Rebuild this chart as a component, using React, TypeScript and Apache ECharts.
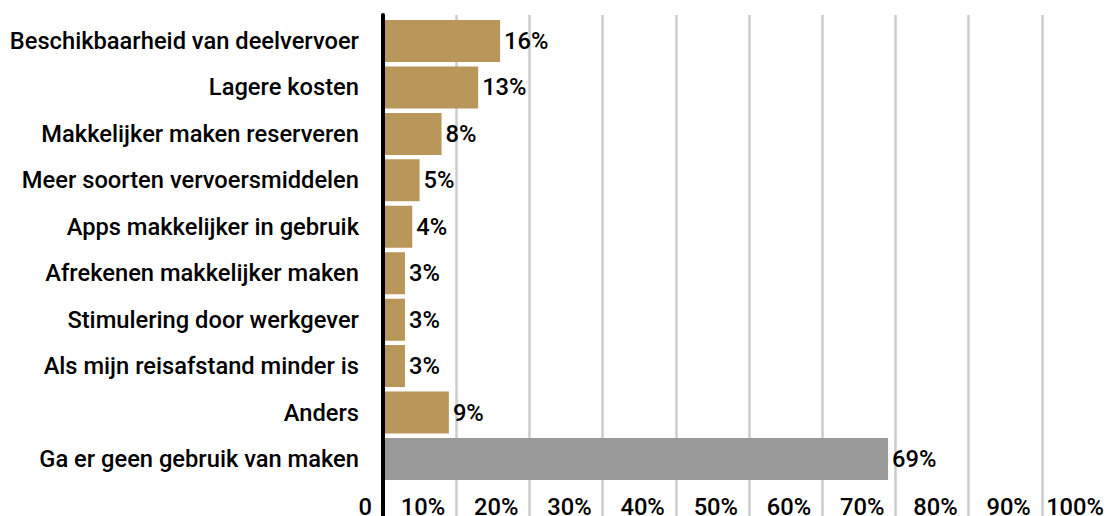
import React, { useEffect, useRef } from "react";
import * as echarts from "echarts";

const categories = [
  "Beschikbaarheid van deelvervoer",
  "Lagere kosten",
  "Makkelijker maken reserveren",
  "Meer soorten vervoersmiddelen",
  "Apps makkelijker in gebruik",
  "Afrekenen makkelijker maken",
  "Stimulering door werkgever",
  "Als mijn reisafstand minder is",
  "Anders",
  "Ga er geen gebruik van maken",
];
const values = [16, 13, 8, 5, 4, 3, 3, 3, 9, 69];
const barColors = ["#B9965A", "#B9965A", "#B9965A", "#B9965A", "#B9965A", "#B9965A", "#B9965A", "#B9965A", "#B9965A", "#999999"];
const xTicks = { min: 0, max: 100, interval: 10 };

export default function App() {
  const ref = useRef<HTMLDivElement>(null);
  useEffect(() => {
    if (!ref.current) return;
    const chart = echarts.init(ref.current, undefined, { renderer: "svg" });
    const font = "Roboto";
    const fs = 23.7;
    chart.setOption({
      animation: false,
      grid: [
        { left: 383, width: 732, top: 15, bottom: 0, outerBoundsMode: "none", containLabel: false },
        { left: 383, width: 732, top: 17.8, height: 464.4, outerBoundsMode: "none", containLabel: false },
      ],
      xAxis: [
        {
          gridIndex: 0,
          type: "value",
          ...xTicks,
          axisLine: { show: false },
          axisTick: { show: false },
          axisLabel: { show: false },
          splitLine: { show: true, lineStyle: { color: "#cccccc", width: 2.5 } },
        },
        {
          gridIndex: 1,
          type: "value",
          ...xTicks,
          axisLine: { show: false },
          axisTick: { show: false },
          splitLine: { show: false },
          axisLabel: {
            show: true,
            showMinLabel: true,
            showMaxLabel: true,
            fontFamily: font,
            fontWeight: 500,
            fontSize: fs,
            color: "#000",
            align: "right",
            padding: [0, 11, 0, 0],
            margin: 13,
            formatter: (v: number) => (v === 0 ? "0" : v + "%"),
          },
        },
      ],
      yAxis: [
        {
          gridIndex: 0,
          type: "value",
          z: 5,
          axisLine: { show: true, lineStyle: { color: "#000", width: 4 } },
          axisTick: { show: false },
          axisLabel: { show: false },
          splitLine: { show: false },
        },
        {
          gridIndex: 1,
          type: "category",
          inverse: true,
          data: categories,
          axisLine: { show: false },
          axisTick: { show: false },
          axisLabel: { fontFamily: font, fontWeight: 500, fontSize: fs, color: "#000", margin: 24 },
        },
      ],
      series: [
        {
          type: "bar",
          xAxisIndex: 1,
          yAxisIndex: 1,
          barWidth: 42,
          z: 3,
          data: values.map((v, i) => ({ value: v, itemStyle: { color: barColors[i] } })),
          label: {
            show: true,
            position: "right",
            distance: 4,
            fontFamily: font,
            fontWeight: 500,
            fontSize: fs,
            color: "#000",
            formatter: "{c}%",
          },
        },
      ],
    });
    return () => chart.dispose();
  }, []);
  return <div ref={ref} style={{ width: 1107, height: 516, position: "absolute", left: 0, top: 0 }} />;
}
